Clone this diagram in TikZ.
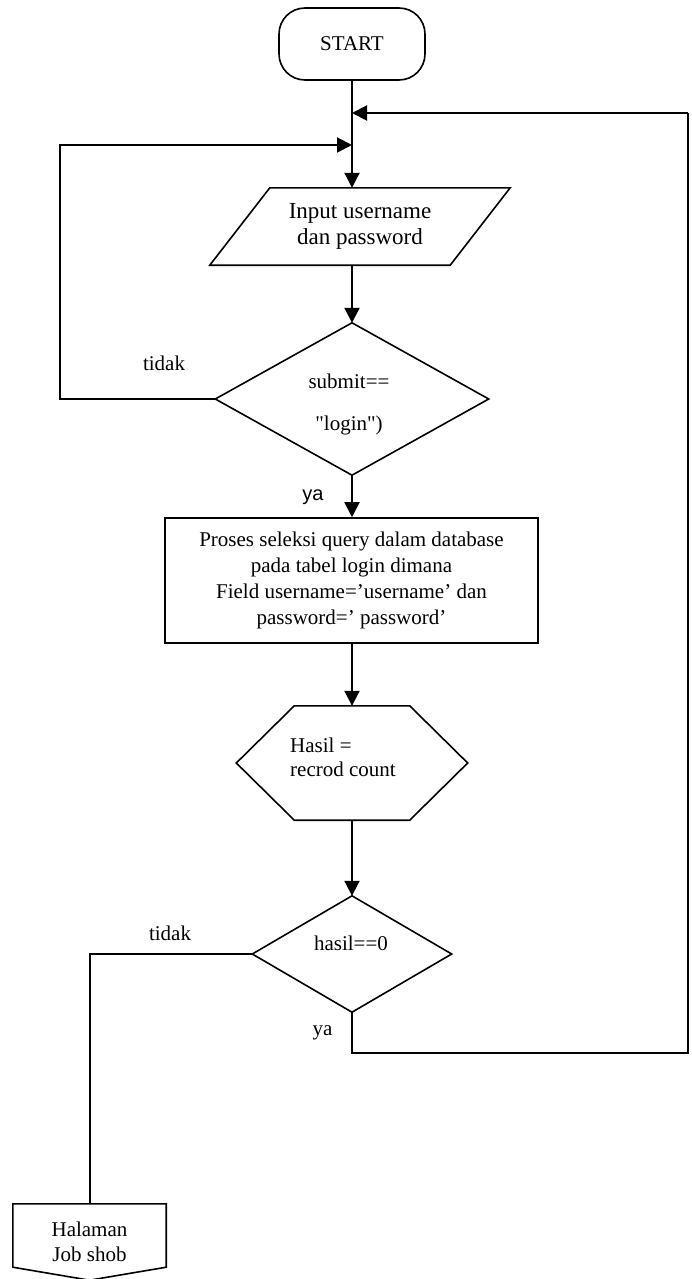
\documentclass[tikz,border=0pt]{standalone}
\usepackage{fontspec}
\setmainfont{Liberation Serif}[Ligatures=TeXOff]
\newfontfamily\arialfont{Liberation Sans}
\usetikzlibrary{arrows.meta,calc}
\begin{document}
\begin{tikzpicture}[x=1pt,y=-1pt,
  outline/.style={line width=1.6pt},
  flow/.style={line width=2pt},
  arr/.style={flow,-{Triangle[length=15pt,width=15pt]}},
  txt/.style={font=\fontsize{21}{26}\selectfont, align=center, inner sep=0pt},
  geo/.style={inner sep=0pt, minimum width=#1},
  lbl/.style={font=\fontsize{21}{26}\selectfont, inner sep=0pt, anchor=base}
]
\useasboundingbox (0,0) rectangle (692,1279);

% terminal
\node[txt, draw, outline, rounded corners=26pt, minimum width=146pt, minimum height=72pt] (start) at (352,44) {START};

% input (parallelogram)
\node[txt, font=\fontsize{23}{26}\selectfont, minimum width=300pt, minimum height=77pt] (in) at (360,226.5) {Input username\\dan password};
\draw[outline] ($(in.north west)+(60,0)$) -- (in.north east) -- ($(in.south east)+(-60,0)$) -- (in.south west) -- cycle;

% first decision
\node[geo=273pt, minimum height=152pt] (d1) at (352,399) {};
\draw[outline] (d1.north) -- (d1.east) -- (d1.south) -- (d1.west) -- cycle;
\node[txt, font=\fontsize{21}{42}\selectfont] (d1text) at (349,404) {submit==\\"login")};

% query process
\node[txt, draw, outline, minimum width=373pt, minimum height=125pt] (proc) at (351.5,580.5) {Proses seleksi query dalam database\\pada tabel login dimana\\Field username=’username’ dan\\password=’ password’};

% preparation (hexagon)
\node[geo=231pt, minimum height=114pt] (hex) at (352,763) {};
\draw[outline] (hex.west) -- ($(hex.north west)+(58,0)$) -- ($(hex.north east)+(-58,0)$) -- (hex.east) -- ($(hex.south east)+(-58,0)$) -- ($(hex.south west)+(58,0)$) -- cycle;
\node[txt, font=\fontsize{21}{24}\selectfont, align=left, anchor=west] (hextext) at (290,757.5) {Hasil =\\recrod count};

% second decision
\node[geo=199pt, minimum height=116pt] (d2) at (352,954) {};
\draw[outline] (d2.north) -- (d2.east) -- (d2.south) -- (d2.west) -- cycle;
\node[lbl] (d2text) at (351,950) {hasil==0};

% off-page connector
\node[txt, font=\fontsize{21}{25}\selectfont, minimum width=153pt, minimum height=76pt] (off) at (89.5,1242) {Halaman\\Job shob};
\draw[outline] (off.north west) -- (off.north east) -- ($(off.south east)+(0,-13)$) -- (off.south) -- ($(off.south west)+(0,-13)$) -- cycle;

% loop coordinates
\coordinate (lx) at (60,145);
\coordinate (rx) at (688,113);
\coordinate (ry) at (688,1053);

% connectors
\draw[arr] (start.south) -- (start.south |- in.north);
\draw[arr] (rx) -- (rx -| start.south);
\draw[arr] (d1.west) -- (d1.west -| lx) -- (lx) -- (lx -| start.south);
\draw[arr] (in.south -| d1.north) -- (d1.north);
\draw[arr] (d1.south) -- (d1.south |- proc.north);
\draw[arr] (proc.south -| hex.north) -- (hex.north);
\draw[arr] (hex.south) -- (d2.north);
\draw[flow] (d2.south) -- (d2.south |- ry) -- (ry) -- (rx);
\draw[flow] (d2.west) -- (d2.west -| off.north) -- (off.north);

% branch labels
\node[lbl] (no1) at (164,370.7) {tidak};
\node[lbl, font=\arialfont\fontsize{20}{24}\selectfont] (yes1) at (313,500.7) {ya};
\node[lbl] (no2) at (170,940) {tidak};
\node[lbl] (yes2) at (322.5,1035) {ya};
\end{tikzpicture}
\end{document}
